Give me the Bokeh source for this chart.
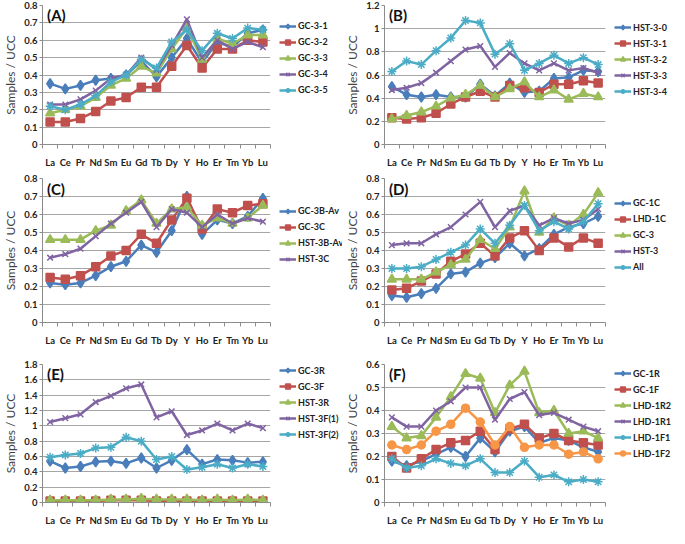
from bokeh.plotting import figure
from bokeh.layouts import column, row
from bokeh.models import (Range1d, FixedTicker, CustomJSTickFormatter, Legend, Label,
                          ColumnDataSource)
from bokeh.embed import file_html
from bokeh.resources import INLINE

elements = ["La", "Ce", "Pr", "Nd", "Sm", "Eu", "Gd", "Tb", "Dy", "Y", "Ho", "Er", "Tm", "Yb", "Lu"]

# Panel A
a_names = ["GC-3-1", "GC-3-2", "GC-3-3", "GC-3-4", "GC-3-5"]
a_gc31 = [0.35, 0.32, 0.34, 0.37, 0.38, 0.40, 0.48, 0.39, 0.50, 0.61, 0.47, 0.59, 0.56, 0.64, 0.66]
a_gc32 = [0.13, 0.13, 0.15, 0.19, 0.25, 0.27, 0.33, 0.33, 0.45, 0.57, 0.44, 0.55, 0.55, 0.60, 0.59]
a_gc33 = [0.18, 0.20, 0.22, 0.27, 0.34, 0.38, 0.45, 0.41, 0.55, 0.67, 0.49, 0.61, 0.58, 0.63, 0.63]
a_gc34 = [0.23, 0.23, 0.26, 0.31, 0.38, 0.40, 0.50, 0.43, 0.57, 0.72, 0.50, 0.60, 0.55, 0.59, 0.56]
a_gc35 = [0.22, 0.20, 0.23, 0.28, 0.36, 0.40, 0.49, 0.44, 0.59, 0.66, 0.54, 0.64, 0.61, 0.67, 0.66]

# Panel B
b_names = ["HST-3-0", "HST-3-1", "HST-3-2", "HST-3-3", "HST-3-4"]
b_hst30 = [0.50, 0.43, 0.41, 0.43, 0.41, 0.41, 0.52, 0.42, 0.53, 0.45, 0.46, 0.57, 0.58, 0.64, 0.63]
b_hst31 = [0.23, 0.22, 0.23, 0.27, 0.35, 0.41, 0.46, 0.41, 0.51, 0.49, 0.45, 0.52, 0.52, 0.55, 0.53]
b_hst32 = [0.22, 0.25, 0.28, 0.33, 0.40, 0.43, 0.51, 0.41, 0.48, 0.54, 0.41, 0.47, 0.39, 0.44, 0.41]
b_hst33 = [0.47, 0.49, 0.53, 0.62, 0.72, 0.82, 0.85, 0.67, 0.79, 0.70, 0.64, 0.70, 0.64, 0.66, 0.62]
b_hst34 = [0.63, 0.72, 0.69, 0.81, 0.92, 1.07, 1.05, 0.78, 0.87, 0.64, 0.70, 0.77, 0.70, 0.75, 0.69]

# Panel C
c_names = ["GC-3B-Av", "GC-3C", "HST-3B-Av", "HST-3C"]
c_gc3bav = [0.22, 0.21, 0.22, 0.26, 0.31, 0.34, 0.43, 0.39, 0.51, 0.70, 0.49, 0.57, 0.55, 0.59, 0.69]
c_gc3c = [0.25, 0.24, 0.26, 0.31, 0.37, 0.40, 0.49, 0.44, 0.57, 0.69, 0.52, 0.63, 0.61, 0.65, 0.66]
c_hst3bav = [0.46, 0.46, 0.46, 0.51, 0.54, 0.62, 0.68, 0.55, 0.63, 0.64, 0.54, 0.58, 0.55, 0.58, 0.65]
c_hst3c = [0.36, 0.38, 0.41, 0.48, 0.55, 0.61, 0.67, 0.53, 0.63, 0.61, 0.53, 0.60, 0.55, 0.58, 0.56]

# Panel D
d_names = ["GC-1C", "LHD-1C", "GC-3", "HST-3", "All"]
d_gc1c = [0.15, 0.14, 0.16, 0.19, 0.27, 0.28, 0.33, 0.36, 0.44, 0.37, 0.41, 0.49, 0.53, 0.55, 0.59]
d_lhd1c = [0.18, 0.19, 0.23, 0.27, 0.34, 0.38, 0.44, 0.37, 0.47, 0.51, 0.40, 0.47, 0.42, 0.47, 0.44]
d_gc3 = [0.24, 0.24, 0.24, 0.28, 0.32, 0.35, 0.46, 0.41, 0.53, 0.73, 0.50, 0.58, 0.54, 0.60, 0.72]
d_hst3 = [0.43, 0.44, 0.44, 0.49, 0.53, 0.60, 0.67, 0.53, 0.62, 0.65, 0.54, 0.58, 0.55, 0.57, 0.63]
d_all = [0.30, 0.30, 0.31, 0.35, 0.39, 0.43, 0.52, 0.44, 0.54, 0.65, 0.51, 0.56, 0.52, 0.56, 0.66]

# Panel E
e_names = ["GC-3R", "GC-3F", "HST-3R", "HST-3F(1)", "HST-3F(2)"]
e_gc3r = [0.54, 0.45, 0.47, 0.53, 0.54, 0.51, 0.58, 0.45, 0.55, 0.69, 0.50, 0.56, 0.55, 0.52, 0.53]
e_gc3f = [0.02, 0.02, 0.02, 0.02, 0.03, 0.03, 0.03, 0.02, 0.02, 0.02, 0.02, 0.02, 0.02, 0.02, 0.02]
e_hst3r = [0.03, 0.03, 0.03, 0.03, 0.04, 0.04, 0.05, 0.04, 0.04, 0.04, 0.03, 0.04, 0.03, 0.04, 0.03]
e_hst3f1 = [1.05, 1.10, 1.15, 1.31, 1.39, 1.49, 1.54, 1.11, 1.19, 0.88, 0.94, 1.03, 0.94, 1.03, 0.97]
e_hst3f2 = [0.59, 0.62, 0.64, 0.71, 0.72, 0.85, 0.80, 0.56, 0.60, 0.43, 0.46, 0.50, 0.45, 0.50, 0.47]

# Panel F
f_names = ["GC-1R", "GC-1F", "LHD-1R2", "LHD-1R1", "LHD-1F1", "LHD-1F2"]
f_gc1r = [0.18, 0.16, 0.18, 0.21, 0.24, 0.20, 0.28, 0.22, 0.31, 0.33, 0.26, 0.28, 0.27, 0.24, 0.22]
f_gc1f = [0.20, 0.15, 0.19, 0.23, 0.26, 0.27, 0.31, 0.23, 0.32, 0.34, 0.28, 0.30, 0.27, 0.26, 0.25]
f_lhd1r2 = [0.33, 0.28, 0.29, 0.37, 0.46, 0.56, 0.54, 0.39, 0.51, 0.57, 0.39, 0.40, 0.30, 0.31, 0.28]
f_lhd1r1 = [0.37, 0.33, 0.33, 0.40, 0.44, 0.50, 0.50, 0.36, 0.45, 0.48, 0.38, 0.39, 0.36, 0.33, 0.31]
f_lhd1f1 = [0.19, 0.15, 0.16, 0.19, 0.17, 0.16, 0.19, 0.13, 0.13, 0.18, 0.11, 0.12, 0.09, 0.10, 0.09]
f_lhd1f2 = [0.25, 0.23, 0.25, 0.31, 0.34, 0.41, 0.35, 0.25, 0.33, 0.24, 0.25, 0.25, 0.21, 0.22, 0.19]

COLORS = ["#4a7ebb", "#c0504d", "#9bbb59", "#8064a2", "#4bacc6", "#f79646"]
MARKERS = ["diamond", "square", "triangle", "x", "asterisk", "circle"]
MSIZES = [10, 8, 9, 8, 9, 8]
FONT = "Lato"
GRID = "#a6a6a6"
AXIS = "#8c8c8c"

xs = [i + 0.5 for i in range(len(elements))]

BL = 36   # left border (y axis)
BB = 23   # bottom border (x axis)
BR = 4
ITEM_H = 12
ITEM_SP = 4
PAD = 2


def make_panel(tag, names, series, ymax, ystep, pwidth, lwidth, height, top_border, leg_center):
    p = figure(width=pwidth, height=height, output_backend="svg", toolbar_location=None,
               x_range=Range1d(0, len(elements)), y_range=Range1d(0, ymax),
               min_border_top=top_border, min_border_bottom=BB, min_border_left=BL,
               min_border_right=BR)
    p.outline_line_color = None
    fh = height - top_border - BB

    nt = int(round(ymax / ystep))
    yticks = [round(i * ystep, 2) for i in range(nt + 1)]
    p.yaxis.ticker = FixedTicker(ticks=yticks)
    p.yaxis.formatter = CustomJSTickFormatter(code="return String(Math.round(tick*100)/100);")
    p.ygrid.ticker = FixedTicker(ticks=yticks)
    p.ygrid.grid_line_color = GRID
    p.ygrid.grid_line_width = 1
    p.xgrid.grid_line_color = None

    p.xaxis.ticker = FixedTicker(ticks=xs, minor_ticks=list(range(len(elements) + 1)))
    p.xaxis.formatter = CustomJSTickFormatter(args=dict(cats=elements),
                                              code="return cats[Math.floor(tick)];")
    p.xaxis.major_tick_line_color = None
    p.xaxis.minor_tick_line_color = AXIS
    p.xaxis.minor_tick_in = 0
    p.xaxis.minor_tick_out = 4
    p.xaxis.major_label_standoff = 6
    p.yaxis.minor_tick_line_color = None
    p.yaxis.major_tick_in = 0
    p.yaxis.major_tick_out = 3
    p.yaxis.major_tick_line_color = AXIS
    p.yaxis.major_label_standoff = 2
    for ax in (p.xaxis, p.yaxis):
        ax.axis_line_color = AXIS
        ax.major_label_text_font = FONT
        ax.major_label_text_font_style = "bold"
        ax.major_label_text_font_size = "9.5px"
        ax.major_label_text_color = "#222222"
    p.yaxis.axis_label = "Samples / UCC"
    p.yaxis.axis_label_text_font = FONT
    p.yaxis.axis_label_text_font_style = "normal"
    p.yaxis.axis_label_text_font_size = "12px"
    p.yaxis.axis_label_standoff = 3

    # legend figure: carries the same series, drawn outside its view, only the legend shows
    lg = figure(width=lwidth, height=height, output_backend="svg", toolbar_location=None,
                x_range=Range1d(-3, -2), y_range=Range1d(0, 1),
                x_axis_location=None, y_axis_location=None,
                min_border_top=0, min_border_bottom=0, min_border_left=0, min_border_right=0)
    lg.outline_line_color = None
    lg.grid.visible = False

    items = []
    for i, (name, ys) in enumerate(zip(names, series)):
        src = ColumnDataSource(dict(x=xs, y=ys))
        for fig, store in ((p, None), (lg, items)):
            r1 = fig.line("x", "y", source=src, line_color=COLORS[i], line_width=2.5)
            r2 = fig.scatter("x", "y", source=src, marker=MARKERS[i], size=MSIZES[i],
                             fill_color=COLORS[i], line_color=COLORS[i], line_width=1.5)
            if store is not None:
                store.append((name, [r1, r2]))

    n = len(names)
    leg_h = n * ITEM_H + (n - 1) * ITEM_SP + 2 * PAD
    vy = BB + fh * (1 - leg_center) - leg_h / 2
    leg = Legend(items=items, location=(5, vy))
    leg.border_line_color = None
    leg.background_fill_alpha = 0
    leg.label_text_font = FONT
    leg.label_text_font_style = "bold"
    leg.label_text_font_size = "9px"
    leg.label_text_color = "#222222"
    leg.glyph_width = 17
    leg.glyph_height = ITEM_H
    leg.label_standoff = 2
    leg.label_height = ITEM_H
    leg.spacing = ITEM_SP
    leg.padding = PAD
    leg.margin = 0
    lg.add_layout(leg, "center")

    p.add_layout(Label(x=0.3, y=ymax * 0.93, text=tag, text_font=FONT, text_font_style="bold",
                       text_font_size="15px", text_baseline="middle", text_align="left",
                       text_color="#111111"))
    return row(p, lg)


P1, L1 = 274, 68
P2, L2 = 267, 66
pa = make_panel("(A)", a_names, [a_gc31, a_gc32, a_gc33, a_gc34, a_gc35],
                0.8, 0.1, P1, L1, 170, 5, 0.54)
pb = make_panel("(B)", b_names, [b_hst30, b_hst31, b_hst32, b_hst33, b_hst34],
                1.2, 0.2, P2, L2, 170, 5, 0.55)
pc = make_panel("(C)", c_names, [c_gc3bav, c_gc3c, c_hst3bav, c_hst3c],
                0.8, 0.1, P1, L1, 178, 8, 0.55)
pd = make_panel("(D)", d_names, [d_gc1c, d_lhd1c, d_gc3, d_hst3, d_all],
                0.8, 0.1, P2, L2, 178, 8, 0.55)
pe = make_panel("(E)", e_names, [e_gc3r, e_gc3f, e_hst3r, e_hst3f1, e_hst3f2],
                1.8, 0.2, P1, L1, 180, 16, 0.44)
pf = make_panel("(F)", f_names, [f_gc1r, f_gc1f, f_lhd1r2, f_lhd1r1, f_lhd1f1, f_lhd1f2],
                0.6, 0.1, P2, L2, 180, 16, 0.52)

layout = column(row(pa, pb), row(pc, pd), row(pe, pf))

open("out.html", "w").write(file_html(layout, INLINE))
